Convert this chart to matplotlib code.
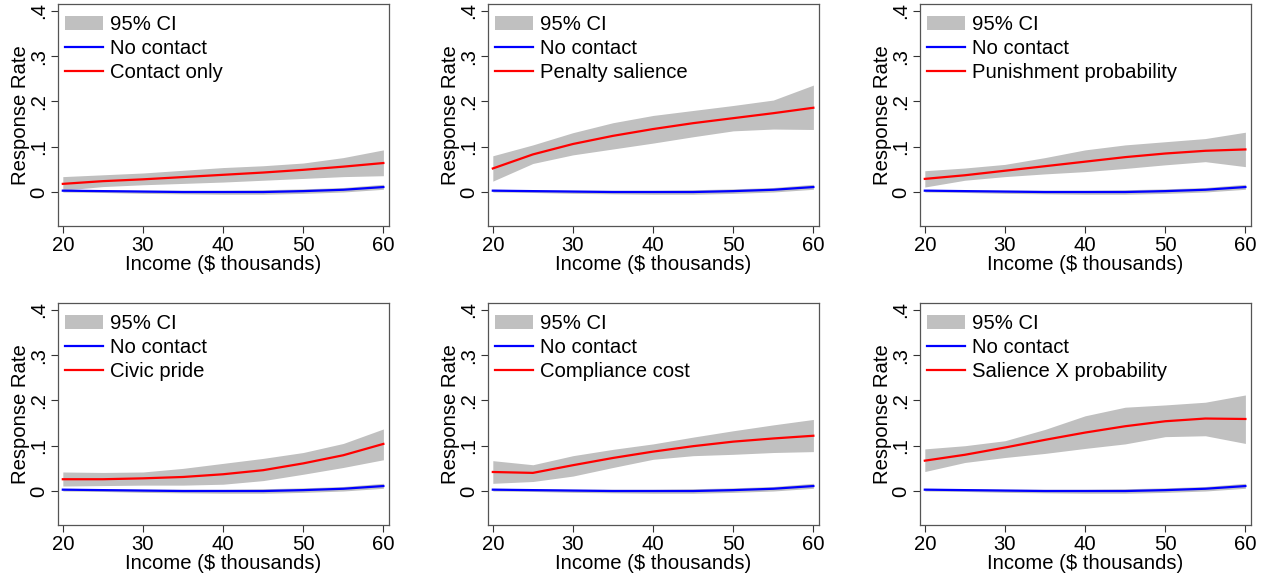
import numpy as np
import matplotlib.pyplot as plt

plt.rcParams['font.family'] = ['Liberation Sans', 'DejaVu Sans']

income = [20, 25, 30, 35, 40, 45, 50, 55, 60]

# No contact (same in every panel)
none_mid = [0.003, 0.002, 0.001, 0.000, 0.000, 0.000, 0.002, 0.005, 0.011]
none_lo = [0.000, -0.001, -0.003, -0.004, -0.005, -0.005, -0.003, 0.000, 0.006]
none_hi = [0.006, 0.005, 0.004, 0.004, 0.004, 0.005, 0.007, 0.010, 0.017]

treatments = ['Contact only', 'Penalty salience', 'Punishment probability',
              'Civic pride', 'Compliance cost', 'Salience X probability']

treat_mid = [
    [0.018, 0.024, 0.028, 0.033, 0.038, 0.043, 0.049, 0.056, 0.064],
    [0.052, 0.083, 0.106, 0.124, 0.139, 0.152, 0.163, 0.174, 0.186],
    [0.029, 0.037, 0.047, 0.057, 0.067, 0.077, 0.085, 0.091, 0.094],
    [0.026, 0.026, 0.028, 0.031, 0.037, 0.046, 0.061, 0.079, 0.104],
    [0.042, 0.040, 0.057, 0.073, 0.087, 0.099, 0.109, 0.116, 0.122],
    [0.067, 0.080, 0.096, 0.113, 0.129, 0.143, 0.154, 0.160, 0.159],
]
treat_lo = [
    [0.004, 0.012, 0.016, 0.019, 0.022, 0.026, 0.030, 0.034, 0.036],
    [0.024, 0.063, 0.082, 0.095, 0.108, 0.122, 0.135, 0.139, 0.138],
    [0.011, 0.026, 0.034, 0.040, 0.045, 0.052, 0.060, 0.067, 0.056],
    [0.011, 0.012, 0.013, 0.013, 0.015, 0.023, 0.037, 0.052, 0.069],
    [0.017, 0.021, 0.033, 0.052, 0.070, 0.078, 0.081, 0.085, 0.087],
    [0.043, 0.063, 0.074, 0.083, 0.094, 0.104, 0.120, 0.122, 0.105],
]
treat_hi = [
    [0.034, 0.038, 0.042, 0.048, 0.054, 0.058, 0.064, 0.076, 0.093],
    [0.080, 0.104, 0.131, 0.153, 0.169, 0.180, 0.191, 0.203, 0.236],
    [0.047, 0.053, 0.061, 0.076, 0.093, 0.104, 0.111, 0.118, 0.132],
    [0.042, 0.041, 0.042, 0.050, 0.061, 0.072, 0.085, 0.105, 0.137],
    [0.067, 0.058, 0.078, 0.092, 0.104, 0.119, 0.133, 0.146, 0.158],
    [0.093, 0.100, 0.111, 0.136, 0.166, 0.185, 0.190, 0.196, 0.212],
]

yticks = [0, 0.1, 0.2, 0.3, 0.4]
ytick_labels = ['0', '.1', '.2', '.3', '.4']
xticks = [20, 30, 40, 50, 60]

fig = plt.figure(figsize=(12.7, 5.77), dpi=100)
W, H = 1270, 577
lefts = [58, 488, 920]
tops = [4, 303]
aw, ah = 331, 222
fs = 14.6

for i, name in enumerate(treatments):
    r, c = divmod(i, 3)
    ax = fig.add_axes([lefts[c] / W, 1 - (tops[r] + ah) / H, aw / W, ah / H])

    ci = ax.fill_between(income, treat_lo[i], treat_hi[i], color='#c0c0c0', lw=0)
    ax.fill_between(income, none_lo, none_hi, color='#c0c0c0', lw=0)
    l0, = ax.plot(income, none_mid, color='#0000ff', lw=1.6)
    l1, = ax.plot(income, treat_mid[i], color='#ff0000', lw=1.6)

    ax.set_xlim(19.4, 60.7)
    ax.set_ylim(-0.075, 0.415)
    ax.set_xticks(xticks)
    ax.set_yticks(yticks)
    ax.set_yticklabels(ytick_labels, rotation=90, va='center')
    ax.tick_params(labelsize=fs, length=5, width=0.8, color='#333333', pad=2)
    for s in ax.spines.values():
        s.set_color('#555555')
        s.set_linewidth(0.9)
    ax.set_xlabel('Income ($ thousands)', fontsize=fs, labelpad=0)
    ax.set_ylabel('Response Rate', fontsize=fs, labelpad=-0.5)

    ax.legend([ci, l0, l1], ['95% CI', 'No contact', name], loc='upper left',
              bbox_to_anchor=(-0.012, 1.0),
              frameon=False, fontsize=fs, handlelength=1.87, handletextpad=0.35,
              labelspacing=0.25, borderaxespad=0.35, borderpad=0.2)

fig.savefig('out.png', dpi=100)
